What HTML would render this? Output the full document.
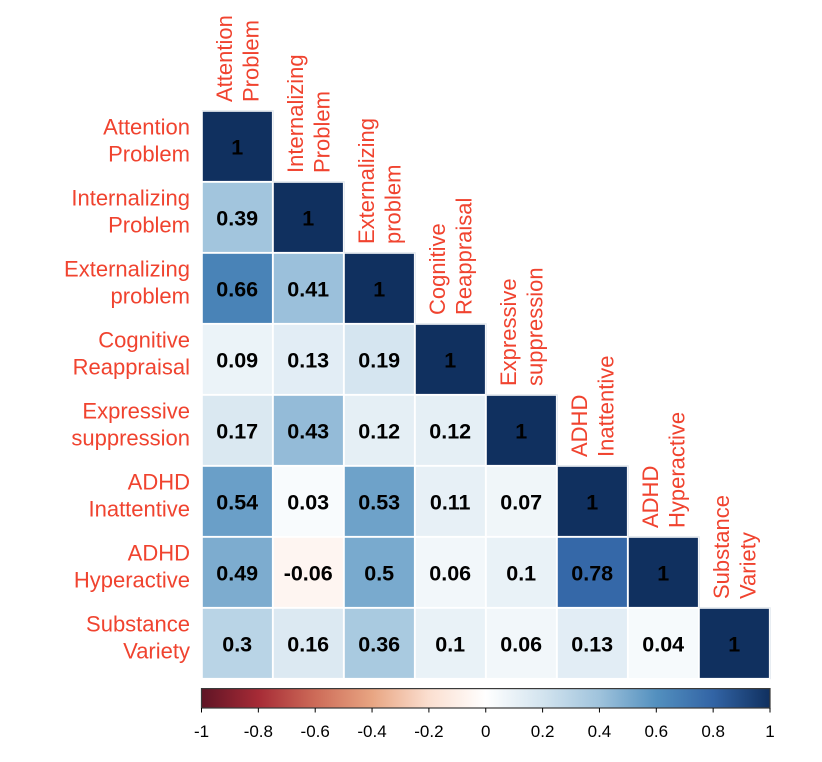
<!DOCTYPE html>
<html>
<head>
<meta charset="utf-8">
<style>
html,body{margin:0;padding:0;background:#fff;width:822px;height:762px;overflow:hidden}
svg{display:block;font-family:"Liberation Sans",Arial,sans-serif}
</style>
</head>
<body>
<svg id="chart" width="822" height="762" viewBox="0 0 822 762">
<defs><linearGradient id="cbar" x1="0" x2="1" y1="0" y2="0"></linearGradient></defs>
</svg>
<script>
const labelLine1 = ["Attention","Internalizing","Externalizing","Cognitive","Expressive","ADHD","ADHD","Substance"];
const labelLine2 = ["Problem","Problem","problem","Reappraisal","suppression","Inattentive","Hyperactive","Variety"];
const row1 = [1];
const row2 = [0.39,1];
const row3 = [0.66,0.41,1];
const row4 = [0.09,0.13,0.19,1];
const row5 = [0.17,0.43,0.12,0.12,1];
const row6 = [0.54,0.03,0.53,0.11,0.07,1];
const row7 = [0.49,-0.06,0.5,0.06,0.1,0.78,1];
const row8 = [0.3,0.16,0.36,0.1,0.06,0.13,0.04,1];
const matrixRows = [row1,row2,row3,row4,row5,row6,row7,row8];
const colorbarTicks = [-1,-0.8,-0.6,-0.4,-0.2,0,0.2,0.4,0.6,0.8,1];
const paletteStops = ["#5f1425","#a62b36","#cd6b58","#e8a582","#fbdfd0","#ffffff","#d3e4ef","#9fc3dc","#5390bf","#3264a5","#10305f"];

const NS = "http://www.w3.org/2000/svg";
const svg = document.getElementById("chart");
const gridLeft = 202, gridTop = 111, cellSize = 71;
const barLeft = 201.5, barRight = 770, barTop = 688.6, barBottom = 708;
const xCell = i => gridLeft + i * cellSize;
const yCell = i => gridTop + i * cellSize;
const xBar = v => barLeft + (v + 1) / 2 * (barRight - barLeft);

function hexToRgb(h){return [1,3,5].map(i=>parseInt(h.substr(i,2),16));}
function colorFor(v){
  const t = (Math.max(-1,Math.min(1,v)) + 1) / 2 * (paletteStops.length - 1);
  const i = Math.min(Math.floor(t), paletteStops.length - 2);
  const f = t - i;
  const a = hexToRgb(paletteStops[i]), b = hexToRgb(paletteStops[i+1]);
  return "rgb(" + a.map((c,k)=>Math.round(c+(b[k]-c)*f)).join(",") + ")";
}
function make(tag, attrs, parent){
  const e = document.createElementNS(NS, tag);
  for (const k in attrs) e.setAttribute(k, attrs[k]);
  (parent || svg).appendChild(e);
  return e;
}

/* cells */
matrixRows.forEach((vals, r) => {
  vals.forEach((v, c) => {
    const cell = make("rect", {x:xCell(c)+0.5, y:yCell(r)+0.5, width:cellSize-1.3, height:cellSize-1.3, fill:colorFor(v), stroke:"#ffffff", "stroke-width":0.6});
    
    
    if (r === c) {
      const edge = make("path", {d:"M"+(xCell(c)-0.2)+" "+(yCell(r)-0.2)+"H"+(xCell(c)+cellSize+0.2)+"V"+(yCell(r)+cellSize+0.2), fill:"none", stroke:"#dfe5ec", "stroke-width":1});
      
      
    }
  });
});
/* cell values */
matrixRows.forEach((vals, r) => {
  vals.forEach((v, c) => {
    const t = make("text", {x:xCell(c)+35.2, y:yCell(r)+43.6, "text-anchor":"middle", "font-size":"21.5px", "font-weight":"bold", fill:"#000"});
    t.textContent = String(v);
    
    
  });
});
/* row labels */
labelLine1.forEach((name, i) => {
  const g = make("text", {"text-anchor":"end", "font-size":"22px", fill:"#F0432F"});
  
  
  const a = make("tspan", {x:190, y:yCell(i)+23.5}, g);
  a.textContent = name;
  const b = make("tspan", {x:190, y:yCell(i)+50.5}, g);
  b.textContent = labelLine2[i];
});
/* column labels */
labelLine1.forEach((name, i) => {
  const bx = xCell(i) + 30, by = yCell(i) - 9;
  const g = make("text", {transform:"translate("+bx+" "+by+") rotate(-90)", "font-size":"22px", fill:"#F0432F"});
  
  
  const a = make("tspan", {x:0, y:0}, g);
  a.textContent = name;
  const b = make("tspan", {x:0, y:26.6}, g);
  b.textContent = labelLine2[i];
});
/* colorbar */
const grad = document.getElementById("cbar");
paletteStops.forEach((col, i) => {
  make("stop", {offset:(i/(paletteStops.length-1)), "stop-color":col}, grad);
});
const bar = make("rect", {x:barLeft, y:barTop, width:barRight-barLeft, height:barBottom-barTop, fill:"url(#cbar)"});


const barFrame = make("rect", {x:barLeft, y:barTop, width:barRight-barLeft, height:barBottom-barTop, fill:"none", stroke:"#3a3a3a", "stroke-width":1.2});


colorbarTicks.forEach(v => {
  const tick = make("line", {x1:xBar(v), x2:xBar(v), y1:barBottom, y2:barBottom+4.5, stroke:"#000", "stroke-width":1});
  
  
  const lab = make("text", {x:xBar(v), y:737, "text-anchor":"middle", "font-size":"17px", fill:"#000"});
  lab.textContent = String(v);
  
  
});
</script>
</body>
</html>
